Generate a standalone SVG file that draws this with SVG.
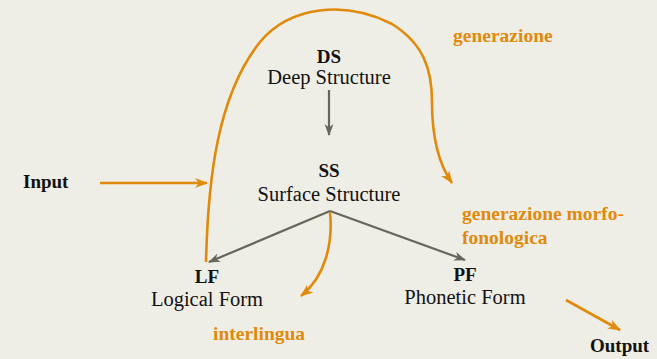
<svg xmlns="http://www.w3.org/2000/svg" width="657" height="359" viewBox="0 0 657 359">
  <style>
    .lbl { font-family: "Liberation Serif", "DejaVu Serif", serif; font-size: 19px; fill: #111; }
    .reg { font-size: 20.5px; }
    .b { font-weight: bold; }
    .or { font-family: "Liberation Serif", "DejaVu Serif", serif; font-size: 19.5px; font-weight: bold; fill: #E08A0C; }
    .gray { fill: none; stroke: #66675B; stroke-width: 2.2; }
    .orange { fill: none; stroke: #E08A0C; stroke-width: 2.6; }
  </style>
  <defs>
    <marker id="ahGray" viewBox="0 0 12 10" refX="11" refY="5" markerWidth="12" markerHeight="10" markerUnits="userSpaceOnUse" orient="auto">
      <path d="M0,0.5 L12,5 L0,9.5 L3.5,5 Z" fill="#66675B"/>
    </marker>
    <marker id="ahOrange" viewBox="0 0 13 11" refX="12" refY="5.5" markerWidth="13" markerHeight="11" markerUnits="userSpaceOnUse" orient="auto">
      <path d="M0,0.5 L13,5.5 L0,10.5 L3.8,5.5 Z" fill="#E08A0C"/>
    </marker>
  </defs>

  <rect width="657" height="359" fill="#EFEEE6"/>

  <g id="connectors">
    <line class="gray" x1="329" y1="90" x2="329" y2="135" marker-end="url(#ahGray)"/>
    <line class="gray" x1="330" y1="211" x2="209" y2="262" marker-end="url(#ahGray)"/>
    <line class="gray" x1="330" y1="211" x2="465" y2="260" marker-end="url(#ahGray)"/>
    <line class="orange" x1="100" y1="183" x2="207" y2="183" marker-end="url(#ahOrange)"/>
    <path class="orange" d="M206,262 C208,180 217,96 260,42 C290,6 345,0 392,24 C424,44 432,70 432,102 C432,140 440,166 452,183" marker-end="url(#ahOrange)"/>
    <path class="orange" d="M330,212 C333,242 326,276 301,296" marker-end="url(#ahOrange)"/>
    <line class="orange" x1="566" y1="300" x2="620" y2="330" marker-end="url(#ahOrange)"/>
  </g>

  <g id="input"><text class="lbl b" x="23" y="188">Input</text></g>
  <g id="ds">
    <text class="lbl b" x="329" y="63" text-anchor="middle">DS</text>
    <text class="lbl reg" x="329" y="84" text-anchor="middle">Deep Structure</text>
  </g>
  <g id="ss">
    <text class="lbl b" x="329" y="177" text-anchor="middle">SS</text>
    <text class="lbl reg" x="329" y="201" text-anchor="middle">Surface Structure</text>
  </g>
  <g id="lf">
    <text class="lbl b" x="207" y="283" text-anchor="middle">LF</text>
    <text class="lbl reg" x="207" y="306" text-anchor="middle">Logical Form</text>
  </g>
  <g id="pf">
    <text class="lbl b" x="465" y="281" text-anchor="middle">PF</text>
    <text class="lbl reg" x="465" y="304" text-anchor="middle">Phonetic Form</text>
  </g>
  <g id="output"><text class="lbl b" x="590" y="352">Output</text></g>

  <g id="annotations">
    <text class="or" x="453" y="42">generazione</text>
    <text class="or" x="462" y="220">generazione morfo-</text>
    <text class="or" x="462" y="244">fonologica</text>
    <text class="or" x="213" y="340">interlingua</text>
  </g>
</svg>
